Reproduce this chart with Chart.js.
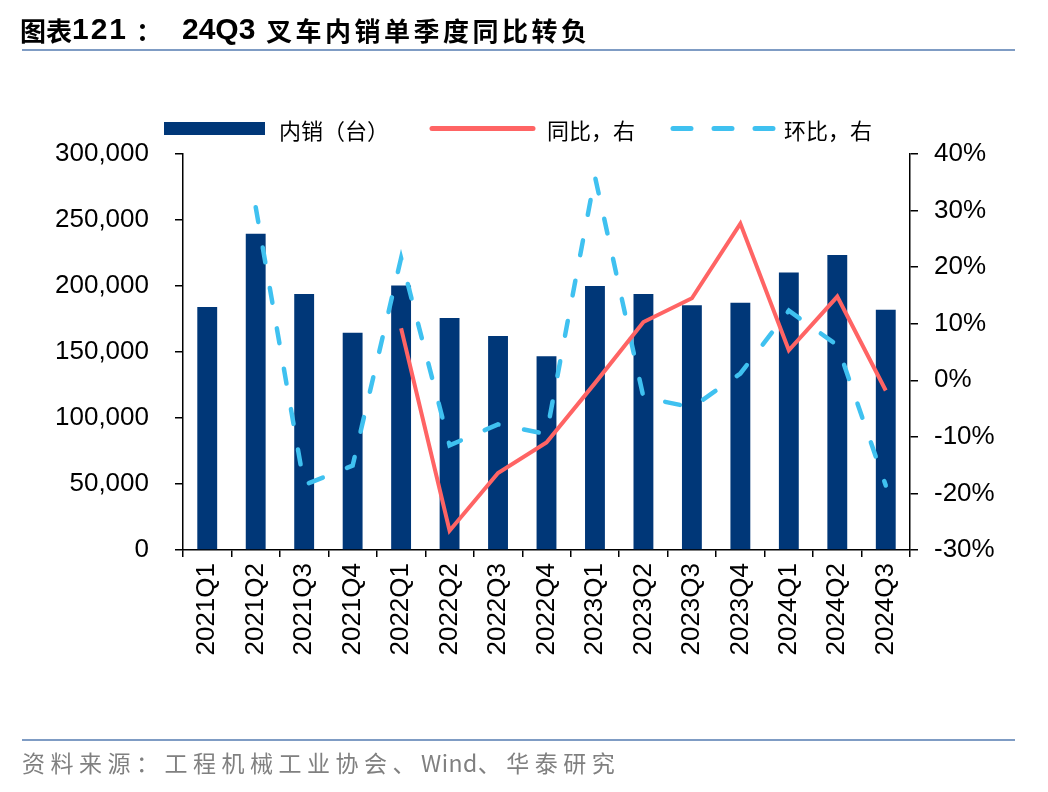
<!DOCTYPE html>
<html>
<head>
<meta charset="utf-8">
<script src="https://cdn.jsdelivr.net/npm/chart.js@4.4.1/dist/chart.umd.min.js"></script>
<style>
    body { margin: 0; background: #ffffff; width: 1048px; height: 792px; position: relative; overflow: hidden; }
    #chart { position: absolute; left: 0; top: 0; }
    .title span { position: absolute; top: 11px; font: bold 26px "Noto Sans CJK SC", sans-serif; color: #000; white-space: nowrap; }
    .title .num { font: bold 30px "Liberation Sans", Arial, sans-serif; top: 12px; }
    .rule { position: absolute; left: 22px; width: 993px; height: 2px; background: #7f9cc4; }
    .footer { position: absolute; left: 22px; top: 745px; font: 23px "Noto Sans CJK SC", sans-serif; color: #808080; letter-spacing: 5.5px; white-space: nowrap; }
    .footer .latin { letter-spacing: 0.5px; }
    .legend { position: absolute; top: 113px; left: 164px; height: 30px; font: 22px "Noto Sans CJK SC", sans-serif; color: #000; white-space: nowrap; }
    .legend span, .legend svg { position: absolute; top: 0; }
</style>
</head>
<body>
<canvas id="chart" width="1048" height="792"></canvas>

<div class="title">
    <span style="left:20px">图表</span>
    <span class="num" style="left:72px; letter-spacing:2px">121</span>
    <span style="left:136px">：</span>
    <span class="num" style="left:182px">24Q3</span>
    <span style="left:266px; letter-spacing:3.5px">叉车内销单季度同比转负</span>
</div>
<div class="rule" style="top:49px"></div>

<div class="legend">
    <svg style="left:0" width="102" height="30"><rect x="0" y="9" width="101" height="13" fill="#003778"/></svg>
    <span style="left:115px">内销（台）</span>
    <svg style="left:265px" width="110" height="30"><line x1="3" y1="15.5" x2="104" y2="15.5" stroke="#ff6464" stroke-width="5" stroke-linecap="round"/></svg>
    <span style="left:383px">同比，右</span>
    <svg style="left:505px" width="110" height="30"><line x1="4" y1="15.5" x2="108" y2="15.5" stroke="#3fc1f0" stroke-width="5" stroke-linecap="round" stroke-dasharray="18 23"/></svg>
    <span style="left:620px">环比，右</span>
</div>

<div class="rule" style="top:739px"></div>
<div class="footer">资料来源：工程机械工业协会、<span class="latin">Wind</span>、华泰研究</div>

<script>
// ---------------------------------------------------------------------------
// data
// ---------------------------------------------------------------------------
const quarters = ['2021Q1', '2021Q2', '2021Q3', '2021Q4',
                  '2022Q1', '2022Q2', '2022Q3', '2022Q4',
                  '2023Q1', '2023Q2', '2023Q3', '2023Q4',
                  '2024Q1', '2024Q2', '2024Q3'];

// domestic sales, units
const domesticSales = [184000, 239500, 194000, 164600,
                       200300, 175800, 162100, 146700,
                       200000, 194000, 185400, 187400,
                       210200, 223400, 182100];

// year on year, %
const yoy = [null, null, null, null,
             9.2, -26.6, -16.4, -11.0,
             -0.5, 10.3, 14.5, 27.7,
             5.3, 14.8, -1.8];

// quarter on quarter, %
const qoq = [null, 30.6, -18.5, -15.1,
             21.6, -11.5, -7.8, -9.5,
             36.0, -3.0, -4.8, 1.2,
             12.3, 6.2, -18.6];

const leftTicks = [0, 50000, 100000, 150000, 200000, 250000, 300000];
const rightTicks = [-30, -20, -10, 0, 10, 20, 30, 40];

// ---------------------------------------------------------------------------
const axisFont = { family: '"Liberation Sans", Arial, sans-serif', size: 26 };

new Chart(document.getElementById('chart'), {
    type: 'bar',
    data: {
        labels: quarters,
        datasets: [
            {
                label: '同比，右',
                type: 'line',
                data: yoy,
                yAxisID: 'y1',
                borderColor: '#ff6464',
                borderWidth: 4,
                pointRadius: 0,
                tension: 0,
                borderJoinStyle: 'miter',
                order: 1
            },
            {
                label: '环比，右',
                type: 'line',
                data: qoq,
                yAxisID: 'y1',
                borderColor: '#3fc1f0',
                borderWidth: 4.5,
                borderDash: [15, 26],
                borderCapStyle: 'round',
                pointRadius: 0,
                tension: 0,
                order: 2
            },
            {
                label: '内销（台）',
                data: domesticSales,
                yAxisID: 'y',
                backgroundColor: '#003778',
                categoryPercentage: 1,
                barPercentage: 0.41,
                order: 3
            }
        ]
    },
    options: {
        responsive: false,
        animation: false,
        layout: { padding: { top: 154, left: 0, right: 0, bottom: 0 } },
        plugins: {
            legend: { display: false },
            tooltip: { enabled: false }
        },
        scales: {
            x: {
                offset: true,
                grid: { display: true, drawOnChartArea: false, offset: true, tickLength: 7, color: '#000', lineWidth: 1.5 },
                border: { display: true, color: '#000', width: 1.5 },
                ticks: { color: '#000', font: axisFont, minRotation: 90, maxRotation: 90, padding: 6, autoSkip: false },
                afterFit: scale => { scale.height = 242; }
            },
            y: {
                position: 'left',
                min: 0,
                max: 300000,
                afterBuildTicks: scale => { scale.ticks = leftTicks.map(v => ({ value: v })); },
                grid: { display: true, drawOnChartArea: false, tickLength: 8, color: '#000', lineWidth: 1.5 },
                border: { display: true, color: '#000', width: 1.5 },
                ticks: { color: '#000', font: axisFont, padding: 26, callback: v => v.toLocaleString('en-US') },
                afterFit: scale => { scale.width = 183; }
            },
            y1: {
                position: 'right',
                min: -30,
                max: 40,
                afterBuildTicks: scale => { scale.ticks = rightTicks.map(v => ({ value: v })); },
                grid: { display: true, drawOnChartArea: false, tickLength: 8, color: '#000', lineWidth: 1.5 },
                border: { display: true, color: '#000', width: 1.5 },
                ticks: { color: '#000', font: axisFont, padding: 16, callback: v => v + '%' },
                afterFit: scale => { scale.width = 138; }
            }
        }
    }
});
</script>
</body>
</html>
